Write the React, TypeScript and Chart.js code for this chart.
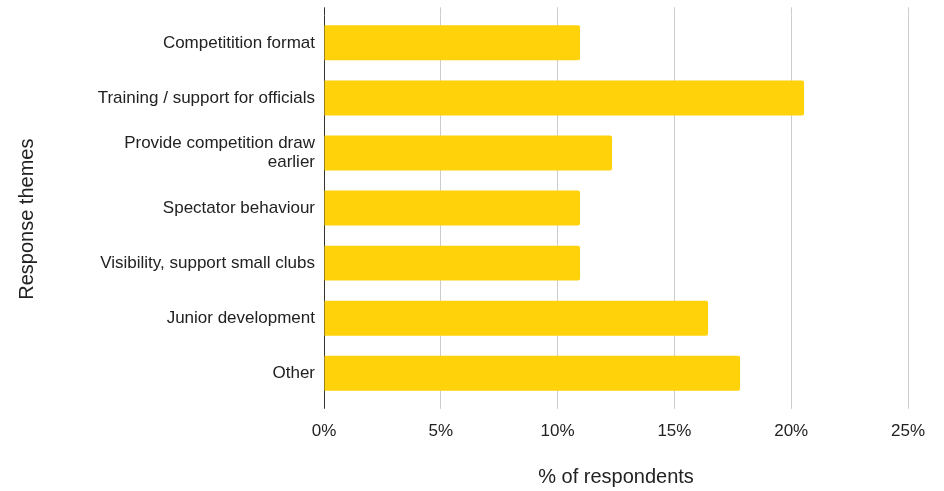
import React, { useEffect, useRef } from "react";
import { Chart, registerables } from "chart.js";

Chart.register(...registerables);

const categories: (string | string[])[] = [
  "Competitition format",
  "Training / support for officials",
  ["Provide competition draw", "earlier"],
  "Spectator behaviour",
  "Visibility, support small clubs",
  "Junior development",
  "Other",
];
const percentValues = [10.96, 20.55, 12.33, 10.96, 10.96, 16.44, 17.81];
const xTickValues = [0, 5, 10, 15, 20, 25];
const xTitle = "% of respondents";
const yTitle = "Response themes";

const FONT = "'Liberation Sans', Arial, sans-serif";

export default function App() {
  const ref = useRef<HTMLCanvasElement>(null);
  useEffect(() => {
    if (!ref.current) return;
    const gridColor = (ctx: any) => (ctx.tick && ctx.tick.value === 0 ? "#333333" : "#cccccc");
    const chart = new Chart(ref.current, {
      type: "bar",
      data: {
        labels: categories as any,
        datasets: [
          {
            data: percentValues,
            backgroundColor: "#FFD20A",
            borderRadius: 2,
            barPercentage: 0.635,
            categoryPercentage: 1,
          },
        ],
      },
      options: {
        indexAxis: "y",
        animation: false,
        responsive: false,
        maintainAspectRatio: false,
        layout: { padding: { left: 0, right: 36, top: 0, bottom: 0 } },
        plugins: { legend: { display: false }, tooltip: { enabled: false } },
        scales: {
          x: {
            type: "linear",
            position: "bottom",
            min: 0,
            max: 25,
            afterBuildTicks: (s: any) => {
              s.ticks = xTickValues.map((v) => ({ value: v }));
            },
            afterFit: (s: any) => {
              s.height = 90.2;
            },
            border: { display: false },
            grid: { color: gridColor, lineWidth: 1, drawTicks: true, tickLength: 8 },
            ticks: {
              padding: 12,
              color: "#222222",
              font: { family: FONT, size: 17 },
              callback: (v: any) => v + "%",
            },
            title: {
              display: true,
              text: xTitle,
              color: "#222222",
              font: { family: FONT, size: 20 },
              padding: { top: 0, bottom: 2 },
            },
          },
          xTop: {
            type: "linear",
            position: "top",
            min: 0,
            max: 25,
            afterBuildTicks: (s: any) => {
              s.ticks = xTickValues.map((v) => ({ value: v }));
            },
            afterFit: (s: any) => {
              s.height = 15.3;
            },
            border: { display: false },
            grid: { color: gridColor, lineWidth: 1, drawOnChartArea: false, drawTicks: true, tickLength: 8 },
            ticks: { display: false },
          },
          y: {
            type: "category",
            position: "left",
            afterFit: (s: any) => {
              s.width = 324;
              s.paddingTop = 0;
              s.paddingBottom = 0;
            },
            border: { display: false },
            grid: { display: false, drawTicks: false, tickLength: 0 },
            ticks: {
              padding: 9,
              color: "#222222",
              font: { family: FONT, size: 17, lineHeight: 1.12 },
            },
            title: {
              display: true,
              text: yTitle + "    ",
              color: "#222222",
              font: { family: FONT, size: 20 },
              padding: { top: 15, bottom: 0 },
            },
          },
        },
      },
    } as any);
    return () => chart.destroy();
  }, []);
  return (
    <div style={{ position: "fixed", left: 0, top: 0, width: 944, height: 491, background: "#fff" }}>
      <canvas ref={ref} width={944} height={491} style={{ width: 944, height: 491 }} />
    </div>
  );
}
